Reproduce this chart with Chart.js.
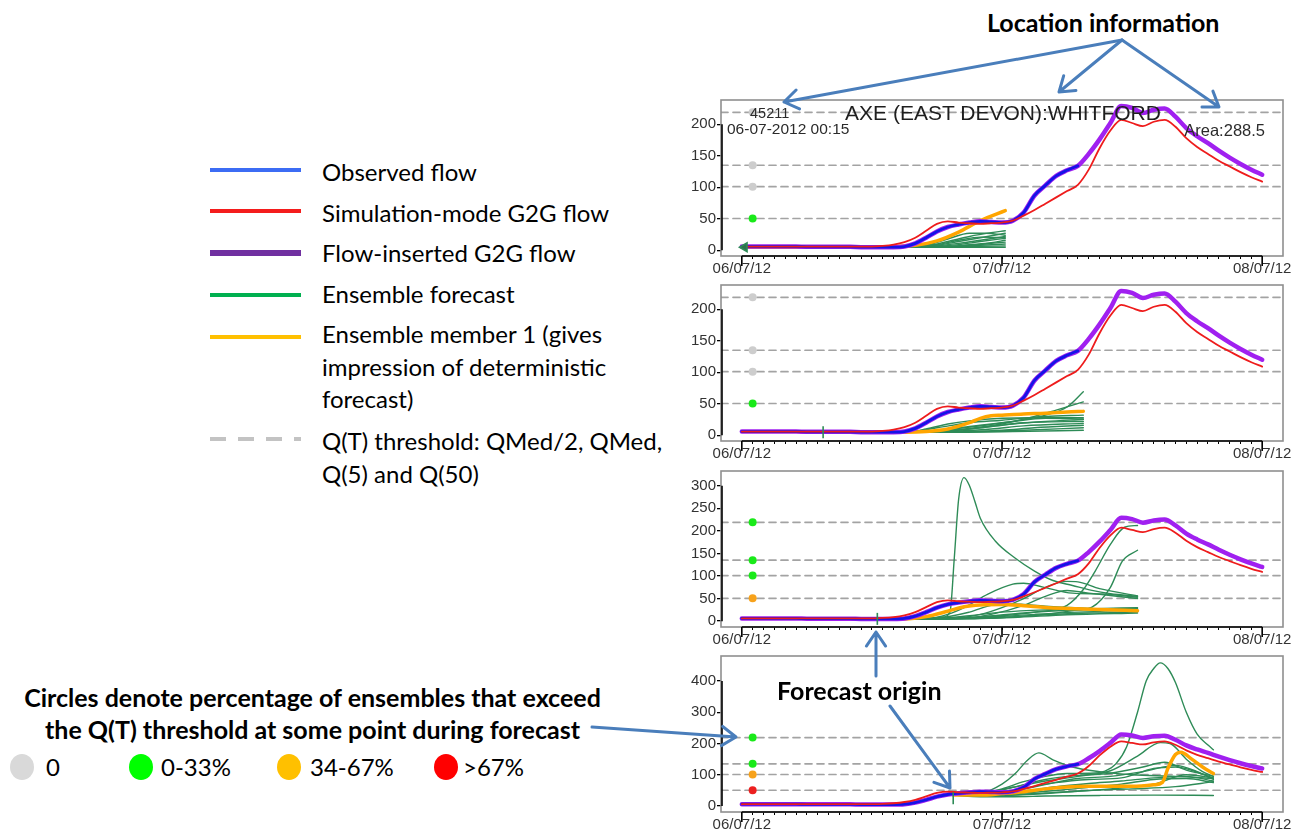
<!DOCTYPE html>
<html>
<head>
<meta charset="utf-8">
<script src="https://cdn.jsdelivr.net/npm/chart.js@4.4.1/dist/chart.umd.min.js"></script>
<style>
  html, body { margin: 0; padding: 0; background: #fff; }
  #page { position: relative; width: 1302px; height: 829px; overflow: hidden; font-family: Lato, "Open Sans", sans-serif; color: #000; }
  .panel { position: absolute; left: 680px; width: 622px; height: 192px; }
  .txt { position: absolute; white-space: nowrap; }
  .legend { left: 322px; font-size: 24px; line-height: 33px; }
  .bold { font-weight: 700; font-size: 25px; }
  .plotText { font-family: "Liberation Sans", Arial, sans-serif; color: #2b2b2b; }
  .dot { position: absolute; width: 24px; height: 26px; border-radius: 50%; }
  svg { position: absolute; left: 0; top: 0; }
</style>
</head>
<body>
<div id="page">
  <!-- legend -->
  <svg width="330" height="500" style="left:0;top:0">
    <line x1="210" y1="170" x2="301" y2="170" stroke="#3c6cf4" stroke-width="4"/>
    <line x1="210" y1="211" x2="301" y2="211" stroke="#f41c1c" stroke-width="4"/>
    <line x1="210" y1="253" x2="301" y2="253" stroke="#7030a0" stroke-width="6"/>
    <line x1="210" y1="295" x2="301" y2="295" stroke="#00b050" stroke-width="4"/>
    <line x1="210" y1="337" x2="301" y2="337" stroke="#ffc000" stroke-width="4"/>
    <line x1="210" y1="439" x2="301" y2="439" stroke="#c3c3c3" stroke-width="4" stroke-dasharray="16 12"/>
  </svg>
  <div class="txt legend" style="top:155px">Observed flow</div>
  <div class="txt legend" style="top:196px">Simulation-mode G2G flow</div>
  <div class="txt legend" style="top:236px">Flow-inserted G2G flow</div>
  <div class="txt legend" style="top:277px">Ensemble forecast</div>
  <div class="txt legend" style="top:318px;line-height:32.5px">Ensemble member 1 (gives<br>impression of deterministic<br>forecast)</div>
  <div class="txt legend" style="top:424px">Q(T) threshold: QMed/2, QMed,<br>Q(5) and Q(50)</div>

  <!-- exceedance key -->
  <div class="txt bold" style="left:0;width:625px;text-align:center;top:681px;line-height:32px">Circles denote percentage of ensembles that exceed<br>the Q(T) threshold at some point during forecast</div>
  <div class="dot" style="left:10px;top:754px;background:#d9d9d9"></div>
  <div class="txt legend" style="left:46px;top:750px">0</div>
  <div class="dot" style="left:129px;top:754px;background:#00ff00"></div>
  <div class="txt legend" style="left:161px;top:750px">0-33%</div>
  <div class="dot" style="left:277px;top:754px;background:#ffc000"></div>
  <div class="txt legend" style="left:310px;top:750px">34-67%</div>
  <div class="dot" style="left:434px;top:754px;background:#ff0000"></div>
  <div class="txt legend" style="left:463px;top:750px">&gt;67%</div>

  <!-- hydrograph panels -->
  <canvas id="panel1" class="panel" width="622" height="192" style="top:90px"></canvas>
  <canvas id="panel2" class="panel" width="622" height="192" style="top:275px"></canvas>
  <canvas id="panel3" class="panel" width="622" height="192" style="top:461px"></canvas>
  <canvas id="panel4" class="panel" width="622" height="192" style="top:646px"></canvas>

  <!-- station header of the first panel -->
  <div class="txt plotText" style="left:750px;top:104px;font-size:14.5px;line-height:18px">45211</div>
  <div class="txt plotText" style="left:727px;top:120px;font-size:15.5px;line-height:18px">06-07-2012 00:15</div>
  <div class="txt plotText" style="left:803px;width:400px;text-align:center;top:100px;font-size:21px;line-height:26px;color:#1e1e1e">AXE (EAST DEVON):WHITFORD</div>
  <div class="txt plotText" style="right:37px;top:120px;font-size:16.5px;line-height:20px">Area:288.5</div>

  <!-- annotations -->
  <div class="txt bold" style="left:987px;top:8px;line-height:28px">Location information</div>
  <div class="txt bold" style="left:777px;top:676px;line-height:28px">Forecast origin</div>
  <svg id="arrows" width="1302" height="829"></svg>
</div>

<script>
// Flow (m3/s) on an hourly grid starting 06/07/12 00:00
const flowHours = [0,1,2,3,4,5,6,7,8,9,10,11,12,13,14,15,16,17,18,19,20,21,22,23,24,
  25,26,27,28,29,30,31,32,33,34,35,36,37,38,39,40,41,42,43,44,45,46,47,48];
const observedFlow = [6,6,6,6,6,6,5.5,5.5,5.5,5.5,5.5,5,5,5,5,6,11,20,30,37,41,44,46,45,44,
  47,60,87,103,118,127,134];
const insertedFlow = [6,6,6,6,6,6,5.5,5.5,5.5,5.5,5.5,5,5,5,5,6,11,20,30,37,41,44,46,45,44,
  47,60,87,103,118,127,134,153,176,202,229,226,218,223,225,212,194,181,170,158,147,137,128,120];
const simulatedFlow = [6,6,6,6,6,6,6,6,6,6,6,6,6,7,9,13,20,31,42,46,44,43,42,43,44,
  47,55,64,74,84,94,104,128,162,190,207,202,197,204,207,196,178,164,153,142,133,124,116,109];

// Q(T) thresholds: QMed/2, QMed, Q(5), Q(50)
const thresholdFlows = [50.5, 101, 135, 219];
const exceedColours = { '0': '#cdcdcd', '0-33%': '#19ea19', '34-67%': '#f7a21b', '>67%': '#ec1f1f' };
const circleHour = 1;

// Axis ticks
const xTickLabels = ['06/07/12', '07/07/12', '08/07/12'];
const xLabelHours = [0, 24, 48];
const xRange = [-1.92, 49.92];

// Forecast issued 06/07/12 00:15
const p1Origin = [0.25, 5];
const p1Exceed = ['0-33%', '0', '0', '0'];
const p1YTicks = [0, 50, 100, 150, 200];
const p1YRange = [-9, 238.5];
const p1Member1 = [[0.25,5],[13,5],[14,6],[16,8],[18,15],[20,29],[22,47],[24.3,63]];
const p1Members = [
  [[0.25,5],[15,5],[17,7],[19,14],[21,22],[23,28],[24.3,31]],
  [[0.25,5],[15,5],[17,8],[19,18],[21,27],[22.5,27],[24.3,24]],
  [[0.25,5],[16,5],[18,8],[20,14],[22,20],[24.3,27]],
  [[0.25,5],[16,5],[18,7],[20,11],[22,16],[24.3,22]],
  [[0.25,5],[16,5],[18,6],[20,9],[22,14],[24.3,19]],
  [[0.25,5],[17,5],[19,6],[21,9],[23,12],[24.3,16]],
  [[0.25,5],[17,5],[19,6],[21,8],[23,11],[24.3,13]],
  [[0.25,5],[18,5],[20,6],[22,8],[24.3,10]],
  [[0.25,5],[18,5],[21,6],[24.3,7]],
  [[0.25,5],[24.3,5]],
  [[0.25,5],[16,5],[18,9],[20,16],[22,21],[24.3,20]]
];

// Forecast issued 06/07/12 07:30
const p2Origin = [7.5, 5];
const p2Exceed = ['0-33%', '0', '0', '0'];
const p2YTicks = [0, 50, 100, 150, 200];
const p2YRange = [-9, 238.5];
const p2Member1 = [[7.5,5],[15,5],[17,6],[19,10],[21,20],[22,27],[23,31],[24,32],[26,34],[28,35],[30,37],[31.5,38]];
const p2Members = [
  [[7.5,5],[15,5],[17,10],[19,18],[21,23],[24,27],[27,28],[31.5,28]],
  [[7.5,5],[16,5],[18,8],[20,12],[23,18],[26,25],[28,32],[30,45],[31.5,69]],
  [[7.5,5],[16,5],[18,7],[21,11],[24,18],[27,30],[29,40],[31.5,53]],
  [[7.5,5],[16,5],[19,7],[22,12],[25,18],[28,22],[31.5,25]],
  [[7.5,5],[17,5],[20,8],[23,14],[26,20],[31.5,22]],
  [[7.5,5],[17,5],[20,7],[23,10],[26,15],[31.5,19]],
  [[7.5,5],[18,5],[21,6],[24,8],[27,12],[31.5,16]],
  [[7.5,5],[18,5],[22,6],[26,8],[31.5,12]],
  [[7.5,5],[20,5],[25,6],[31.5,8]],
  [[7.5,5],[15,5],[18,12],[21,20],[24,24],[28,30],[31.5,32]],
  [[7.5,5],[16,5],[19,9],[22,15],[25,22],[28,27],[31.5,26]]
];

// Forecast issued 06/07/12 12:30
const p3Origin = [12.5, 5];
const p3Exceed = ['34-67%', '0-33%', '0-33%', '0-33%'];
const p3YTicks = [0, 50, 100, 150, 200, 250, 300];
const p3YRange = [-13, 332.6];
const p3Member1 = [[12.5,5],[15,5],[17,10],[19,22],[20.5,32],[22,36],[24,37],[26,34],[28,30],[30,28],[33,26],[36.5,23]];
const p3Members = [
  [[12.5,5],[17,6],[18.5,9],[19.2,20],[19.6,140],[20,270],[20.5,318],[21,300],[21.5,265],[22,228],[23.4,177],[25.2,140],[27,111],[28.7,90],[30.5,79],[32.3,68],[34,61],[36.5,55]],
  [[12.5,5],[17,6],[19,15],[20.6,31],[22.7,60],[25,82],[26,84],[27.7,76],[30.5,62],[33.3,60],[36.5,53]],
  [[12.5,5],[19,6],[22,15],[24,30],[26,50],[28,75],[30,88],[31,87],[33,72],[36.5,56]],
  [[12.5,5],[20,6],[24,12],[27,20],[30,35],[31.5,70],[32.6,111],[34,170],[35.3,208],[36.5,212]],
  [[12.5,5],[22,6],[28,15],[31,25],[32.3,31],[34,75],[35.1,133],[36.5,157]],
  [[12.5,5],[20,6],[23,15],[26,35],[28,55],[30,68],[32,62],[36.5,50]],
  [[12.5,5],[18,6],[21,12],[24,20],[28,25],[32,27],[36.5,30]],
  [[12.5,5],[18,5],[22,10],[26,18],[30,24],[36.5,28]],
  [[12.5,5],[19,5],[23,9],[27,15],[31,20],[36.5,24]],
  [[12.5,5],[19,5],[24,8],[28,14],[32,18],[36.5,20]],
  [[12.5,5],[20,5],[25,8],[30,14],[36.5,18]],
  [[12.5,5],[18,7],[21,20],[23,35],[25,38],[28,33],[32,28],[36.5,25]]
];

// Forecast issued 06/07/12 19:30
const p4Origin = [19.5, 25];
const p4Exceed = ['>67%', '34-67%', '0-33%', '0-33%'];
const p4YTicks = [0, 100, 200, 300, 400];
const p4YRange = [-19, 480];
const p4Member1 = [[19.5,35],[22,35],[24,40],[26,46],[28,55],[30,61],[32,63],[36,63],[38,68],[38.8,76],[39.3,120],[40,165],[40.5,172],[41.5,150],[42.5,125],[43.5,104]];
const p4Members = [
  [[19.5,35],[22,40],[24,55],[26,78],[28,95],[30,104],[32,105],[33.5,112],[34.5,135],[35.5,190],[36.5,300],[37.3,400],[38,440],[38.6,458],[39.3,440],[40,395],[41,300],[42,230],[43,195],[43.5,180]],
  [[19.5,35],[22,40],[24,70],[25.2,103],[26.3,145],[27.4,170],[28.7,148],[30.5,125],[33,110],[36,100],[40,95],[43.5,88]],
  [[19.5,35],[22,38],[25,60],[28,80],[31,95],[34,113],[36.5,160],[38.6,203],[39.5,200],[41,150],[42.5,110],[43.5,95]],
  [[19.5,35],[22,30],[25,30],[28,32],[33,34],[38,35],[43.5,34]],
  [[19.5,35],[22,38],[25,60],[28,85],[31,98],[34,105],[37,125],[39,140],[41,115],[43.5,95]],
  [[19.5,35],[22,36],[25,50],[28,70],[31,88],[34,95],[37,110],[40,130],[42,110],[43.5,85]],
  [[19.5,35],[23,40],[26,55],[29,75],[32,85],[35,90],[38,120],[40,125],[43.5,90]],
  [[19.5,35],[23,38],[26,48],[29,62],[32,72],[35,80],[38,90],[41,95],[43.5,80]],
  [[19.5,35],[23,36],[26,42],[29,50],[32,60],[35,70],[38,85],[41,88],[43.5,75]],
  [[19.5,35],[24,35],[28,42],[32,50],[36,55],[40,62],[43.5,78]],
  [[19.5,35],[22,32],[26,36],[30,45],[34,55],[38,70],[41,100],[43.5,90]]
];

Chart.defaults.font.family = "'Liberation Sans', Arial, sans-serif";
Chart.defaults.font.size = 15;
Chart.defaults.color = '#333';

const COL = { observed: '#1414e6', simulated: '#ee1c1c', inserted: '#a020f0', ensemble: '#2e8b57', member1: '#ffa500', threshold: '#a3a3a3' };

function toPoints(pairs) { return pairs.map(p => ({ x: p[0], y: p[1] })); }
function zip(xs, ys) { return ys.map((y, i) => ({ x: xs[i], y })); }

function lineSet(points, colour, width, order, dash) {
  return {
    type: 'line', data: points, borderColor: colour, backgroundColor: colour,
    borderWidth: width, pointRadius: 0, pointHoverRadius: 0, fill: false,
    cubicInterpolationMode: 'monotone', borderCapStyle: 'round', borderJoinStyle: 'round',
    borderDash: dash || [], order
  };
}

// Frame, R-style axis lines and the longer day ticks
const frameAxes = {
  id: 'frameAxes',
  afterDraw(chart) {
    const { ctx, chartArea: a, scales: { x, y } } = chart;
    ctx.save();
    ctx.strokeStyle = '#8f8f8f';
    ctx.lineWidth = 1.6;
    ctx.strokeRect(a.left, a.top, a.right - a.left, a.bottom - a.top);
    ctx.strokeStyle = '#000';
    ctx.lineWidth = 1.6;
    const yt = y.ticks;
    ctx.beginPath();
    ctx.moveTo(a.left + 1, y.getPixelForValue(yt[0].value));
    ctx.lineTo(a.left + 1, y.getPixelForValue(yt[yt.length - 1].value));
    ctx.moveTo(x.getPixelForValue(xLabelHours[0]), a.bottom);
    ctx.lineTo(x.getPixelForValue(xLabelHours[xLabelHours.length - 1]), a.bottom);
    xLabelHours.forEach(h => {
      const px = x.getPixelForValue(h);
      ctx.moveTo(px, a.bottom);
      ctx.lineTo(px, a.bottom + 10);
    });
    ctx.stroke();
    ctx.restore();
  }
};

function makePanel(id, spec) {
  const sets = [];
  thresholdFlows.forEach(q => sets.push(lineSet(toPoints([[xRange[0], q], [xRange[1], q]]), COL.threshold, 1.7, 9, [7, 5])));
  spec.members.forEach(m => sets.push(lineSet(toPoints(m), COL.ensemble, 1.4, 8)));
  sets.push(lineSet(toPoints(spec.member1), COL.member1, 3.5, 7));
  sets.push(lineSet(zip(flowHours, insertedFlow), COL.inserted, 4.5, 6));
  sets.push(lineSet(zip(flowHours, observedFlow), COL.observed, 2.8, 5));
  sets.push(lineSet(zip(flowHours, simulatedFlow), COL.simulated, 1.8, 4));
  sets.push({
    type: 'scatter', data: thresholdFlows.map(q => ({ x: circleHour, y: q })),
    pointBackgroundColor: spec.exceed.map(c => exceedColours[c]), pointBorderWidth: 0,
    pointRadius: 4, pointHoverRadius: 4, order: 1
  });
  sets.push({
    type: 'scatter', data: [{ x: spec.origin[0], y: spec.origin[1] }],
    pointStyle: spec.marker, rotation: spec.marker === 'triangle' ? 270 : 90,
    pointRadius: spec.marker === 'triangle' ? 5 : 6, pointHoverRadius: 6,
    borderColor: '#2e8b57', backgroundColor: '#2e7050', pointBorderWidth: 1.6, order: 0
  });

  new Chart(document.getElementById(id), {
    type: 'line',
    data: { datasets: sets },
    options: {
      responsive: false, animation: false, events: [],
      layout: { padding: { top: 8, right: 19, left: 0, bottom: 0 } },
      plugins: { legend: { display: false }, tooltip: { enabled: false } },
      scales: {
        x: {
          type: 'linear', min: xRange[0], max: xRange[1],
          afterBuildTicks(s) { s.ticks = flowHours.map(v => ({ value: v })); },
          afterFit(s) { s.height = 26; },
          grid: { drawOnChartArea: false, drawTicks: true, tickLength: 3, color: '#000', lineWidth: 1 },
          border: { display: false },
          ticks: {
            autoSkip: false, maxRotation: 0, padding: 1, color: '#333',
            callback(v) { const i = xLabelHours.indexOf(v); return i >= 0 ? xTickLabels[i] : ''; }
          }
        },
        y: {
          type: 'linear', min: spec.yRange[0], max: spec.yRange[1],
          afterBuildTicks(s) { s.ticks = spec.yTicks.map(v => ({ value: v })); },
          afterFit(s) { s.width = 41; },
          grid: { drawOnChartArea: false, drawTicks: true, tickLength: 4, color: '#000', lineWidth: 1.3 },
          border: { display: false },
          ticks: { padding: 1, color: '#333' }
        }
      }
    },
    plugins: [frameAxes]
  });
}

makePanel('panel1', { origin: p1Origin, marker: 'triangle', exceed: p1Exceed, yTicks: p1YTicks, yRange: p1YRange, member1: p1Member1, members: p1Members });
makePanel('panel2', { origin: p2Origin, marker: 'line', exceed: p2Exceed, yTicks: p2YTicks, yRange: p2YRange, member1: p2Member1, members: p2Members });
makePanel('panel3', { origin: p3Origin, marker: 'line', exceed: p3Exceed, yTicks: p3YTicks, yRange: p3YRange, member1: p3Member1, members: p3Members });
makePanel('panel4', { origin: p4Origin, marker: 'line', exceed: p4Exceed, yTicks: p4YTicks, yRange: p4YRange, member1: p4Member1, members: p4Members });

// Callout arrows
const arrows = [
  [1122, 40, 784, 102], [1122, 40, 1059, 92], [1122, 40, 1219, 107],
  [876, 676, 876, 632], [890, 706, 950, 788], [592, 727, 736, 737]
];
const svg = document.getElementById('arrows');
const NS = 'http://www.w3.org/2000/svg';
arrows.forEach(([x1, y1, x2, y2]) => {
  const ang = Math.atan2(y2 - y1, x2 - x1);
  const len = 17, spread = 0.6;
  const path = document.createElementNS(NS, 'path');
  const ax = x2 - len * Math.cos(ang - spread), ay = y2 - len * Math.sin(ang - spread);
  const bx = x2 - len * Math.cos(ang + spread), by = y2 - len * Math.sin(ang + spread);
  path.setAttribute('d', `M${x1},${y1} L${x2},${y2} M${ax},${ay} L${x2},${y2} L${bx},${by}`);
  path.setAttribute('stroke', '#4a7ebb');
  path.setAttribute('stroke-width', '3');
  path.setAttribute('fill', 'none');
  path.setAttribute('stroke-linecap', 'round');
  path.setAttribute('stroke-linejoin', 'round');
  svg.appendChild(path);
});
</script>
</body>
</html>
